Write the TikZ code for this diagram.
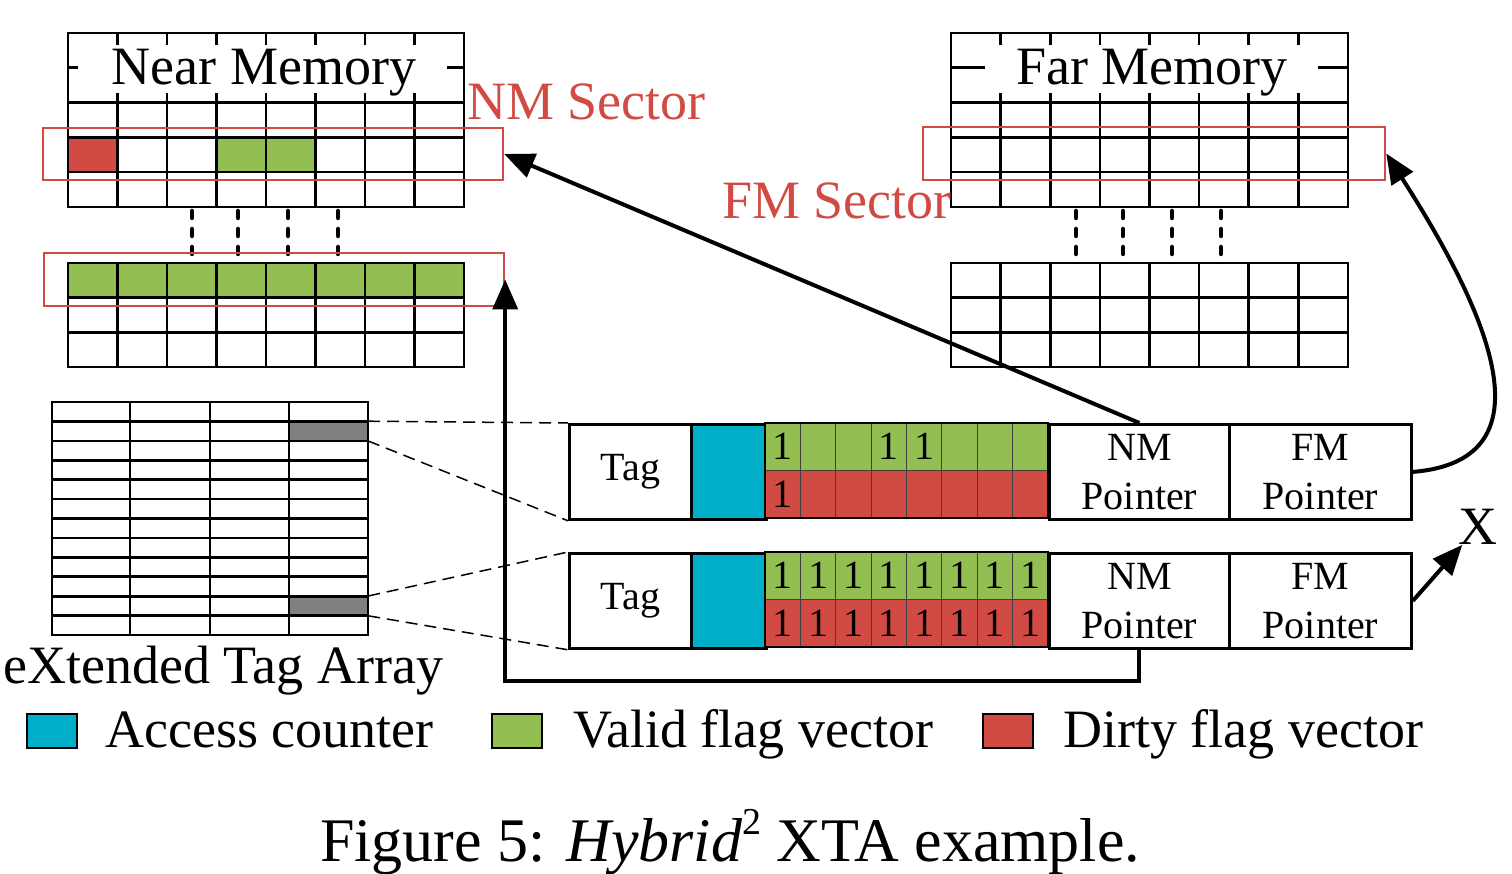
\documentclass[tikz,border=0pt]{standalone}
\usepackage{fontspec}
\setmainfont{Liberation Serif}
\usepackage{tikz}
\usetikzlibrary{arrows.meta}
\usepackage{xcolor}
\definecolor{secred}{HTML}{D14A43}
\definecolor{vgreen}{HTML}{93BE52}
\definecolor{cblue}{HTML}{00AEC8}
\definecolor{tgray}{HTML}{808080}

\begin{document}
\begin{tikzpicture}[x=1pt,y=-1pt,
  grid/.style={line width=2.6pt, line cap=rect},
  dots/.style={line width=4.5pt, line cap=round, dash pattern=on 7pt off 11pt},
  big/.style={font=\fontsize{54}{60}\selectfont, inner sep=0pt},
  sector/.style={draw=secred, line width=2.4pt, inner sep=0pt, minimum height=52pt},
  field/.style={draw, line width=2.8pt, minimum height=95pt, inner sep=0pt, anchor=north west, align=center, font=\fontsize{40}{49}\selectfont},
  flag/.style={draw=black!75, line width=1pt, minimum width=35.375pt, minimum height=47.5pt, inner sep=0pt, font=\fontsize{40}{40}\selectfont},
  swatch/.style={draw, line width=2pt, minimum width=50pt, minimum height=34pt, inner sep=0pt},
  link/.style={line width=1.5pt, dash pattern=on 12pt off 7pt},
  arr/.style={line width=4pt, -{Triangle[length=30pt,width=25pt]}}]
\useasboundingbox (0,0) rectangle (1512,874);

% near memory
\fill[secred] (68,137.4) rectangle (117.5,172.2);
\fill[vgreen] (216.5,137.4) rectangle (315.5,172.2);
\foreach \i in {0,...,8} \draw[grid] ({68+49.5*\i},33) -- ({68+49.5*\i},207);
\foreach \j in {0,...,5} \draw[grid] (68,{33+34.8*\j}) -- (464,{33+34.8*\j});
\fill[white] (78,45) rectangle (447,93);
\node[big, anchor=base] (nmtitle) at (264,85) {Near Memory};
\fill[vgreen] (68,263) rectangle (464,297.7);
\foreach \i in {0,...,8} \draw[grid] ({68+49.5*\i},263) -- ({68+49.5*\i},367);
\foreach \j in {0,...,3} \draw[grid] (68,{263+34.67*\j}) -- (464,{263+34.67*\j});
\foreach \x in {192,238,288,338} \draw[dots] (\x,211) -- (\x,257);
\node[sector, minimum width=460pt] (nmsec) at (273,154) {};
\node[sector, minimum width=460pt, minimum height=53pt] (nmlow) at (274,279.5) {};
\node[big, text=secred, anchor=base west] (nmlbl) at (467,120) {NM Sector};

% far memory
\foreach \i in {0,...,8} \draw[grid] ({951+49.6*\i},33) -- ({951+49.6*\i},207);
\foreach \j in {0,...,5} \draw[grid] (951,{33+34.8*\j}) -- (1348,{33+34.8*\j});
\fill[white] (985,45) rectangle (1318,93);
\node[big, anchor=base] (fmtitle) at (1152,85) {Far Memory};
\foreach \i in {0,...,8} \draw[grid] ({951+49.6*\i},263) -- ({951+49.6*\i},367);
\foreach \j in {0,...,3} \draw[grid] (951,{263+34.67*\j}) -- (1348,{263+34.67*\j});
\foreach \x in {1076,1123,1172,1221} \draw[dots] (\x,211) -- (\x,257);
\node[sector, minimum width=462pt, minimum height=53pt] (fmsec) at (1154,153.5) {};
\node[big, text=secred, anchor=base west] (fmlbl) at (722,219) {FM Sector};

% tag array
\node[fill=tgray, minimum width=79pt, minimum height=19.4pt, inner sep=0pt] (hit1) at (328.5,431.1) {};
\node[fill=tgray, minimum width=79pt, minimum height=19.4pt, inner sep=0pt] (hit2) at (328.5,605.9) {};
\foreach \x in {52,130,210,289,368} \draw[grid] (\x,402) -- (\x,635);
\foreach \j in {0,...,12} \draw[grid] (52,{402+19.42*\j}) -- (368,{402+19.42*\j});
\node[big, anchor=base west] (xta) at (3,683) {eXtended Tag Array};

% entries
\foreach \e/\t in {1/423,2/552} {
  \node[field, minimum width=122pt] (tag\e) at (568,\t) {Tag};
  \node[field, fill=cblue, minimum width=75pt] (cnt\e) at (690,\t) {};
  \node[field, minimum width=180pt] (nmp\e) at (1048,\t) {NM\\Pointer};
  \node[field, minimum width=182pt] (fmp\e) at (1228,\t) {FM\\Pointer};
}
\foreach \i/\v/\d in {1/1/1,2/0/0,3/0/0,4/1/0,5/1/0,6/0/0,7/0/0,8/0/0} {
  \node[flag, fill=vgreen] (v1\i) at ({765+35.375*(\i-0.5)},446.75) {\ifnum\v=1 1\fi};
  \node[flag, fill=secred] (d1\i) at ({765+35.375*(\i-0.5)},494.25) {\ifnum\d=1 1\fi};
}
\foreach \i in {1,...,8} {
  \node[flag, fill=vgreen] (v2\i) at ({765+35.375*(\i-0.5)},575.75) {1};
  \node[flag, fill=secred] (d2\i) at ({765+35.375*(\i-0.5)},623.25) {1};
}
\foreach \t in {423,552} \draw[line width=2.8pt] (765,\t) rectangle (1048,{\t+95});

\draw[link] (hit1.north east) -- (tag1.north west);
\draw[link] (hit1.south east) -- (tag1.south west);
\draw[link] (hit2.north east) -- (tag2.north west);
\draw[link] (hit2.south east) -- (tag2.south west);

% pointers
\node[big] (xmark) at (1478,527) {X};
\draw[arr] (nmp1.north) -- (nmsec.east);
\draw[arr] (nmp2.south) -- ++(0,31) -| (nmlow.east);
\draw[arr] (fmp1.east) .. controls (1560,460) and (1480,300) .. (fmsec.east);
\draw[arr] (fmp2.east) -- (xmark);

% legend
\node[swatch, fill=cblue] (lgcnt) at (52,731) {};
\node[big, anchor=base west] (lgcnttxt) at (105,747) {Access counter};
\node[swatch, fill=vgreen] (lgval) at (517,731) {};
\node[big, anchor=base west] (lgvaltxt) at (573,747) {Valid flag vector};
\node[swatch, fill=secred] (lgdty) at (1008,731) {};
\node[big, anchor=base west] (lgdtytxt) at (1063,747) {Dirty flag vector};

\node[font=\fontsize{62}{70}\selectfont, inner sep=0pt, anchor=base west] (caption) at (320,861) {Figure 5: \textit{Hybrid}\raisebox{0.42em}{\fontsize{38}{38}\selectfont 2} XTA example.};
\end{tikzpicture}
\end{document}
